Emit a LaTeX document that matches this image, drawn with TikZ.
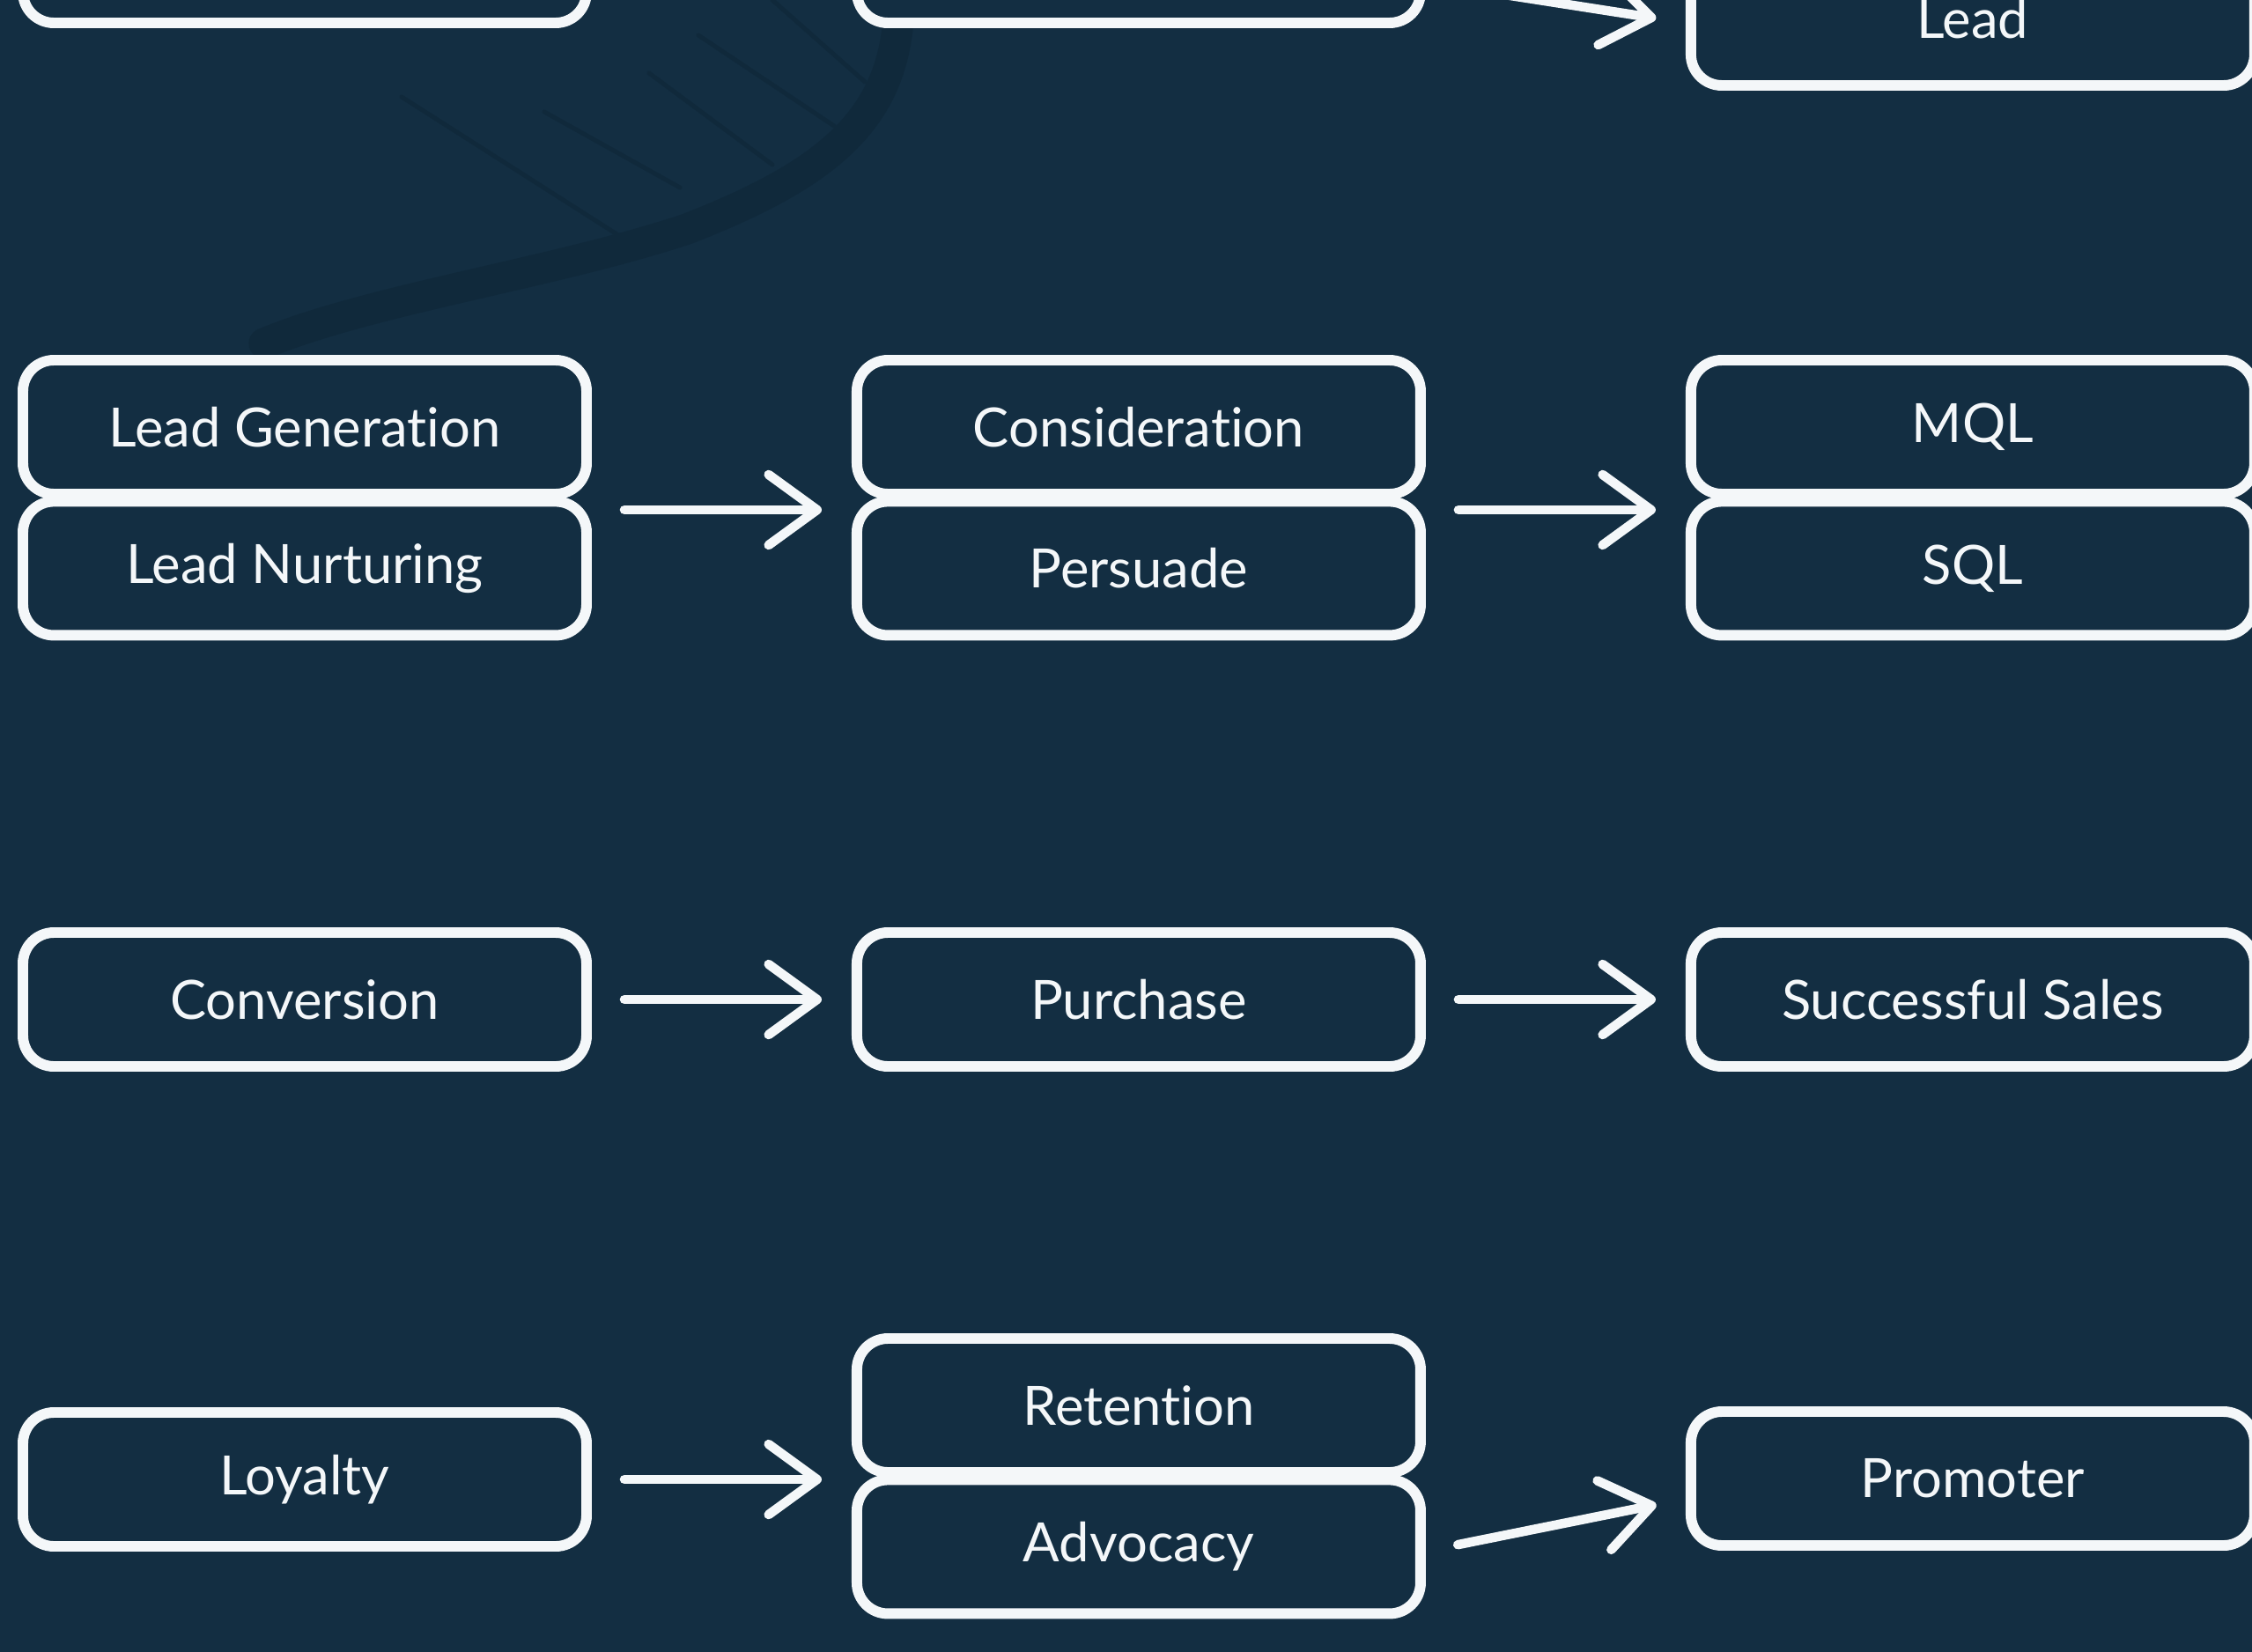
\documentclass[tikz,border=0pt]{standalone}
\usepackage{fontspec}
\setmainfont{Lato}[Ligatures=NoCommon]
\usepackage{tikz}
\usetikzlibrary{arrows.meta, positioning}
\definecolor{boardnavy}{HTML}{132E42}
\definecolor{boardshade}{HTML}{10293B}
\definecolor{chalk}{HTML}{F4F7F9}
\tikzset{
  stage/.style={draw=chalk, fill=boardnavy, rounded corners=10pt, line width=3.4pt,
    minimum height=1.52cm, minimum width=6.40cm, inner sep=0pt, text=chalk,
    font=\fontsize{17.5}{21}\selectfont},
  flow/.style={-{Straight Barb[length=5.5mm, width=8mm, round]}, draw=chalk,
    line width=3pt, line cap=round, shorten <=3.7mm, shorten >=3.4mm},
  sketch/.style={draw=boardshade, line cap=round}
}

\begin{document}
\begin{tikzpicture}[node distance=0cm and 2.95cm]
\fill[boardnavy] (0,0) rectangle (25.57,-18.76);
\useasboundingbox (0,0) rectangle (25.57,-18.76);
\clip (0,0) rectangle (25.57,-18.76);
% faint chalk sketch behind the upper rows
\draw[sketch, line width=10pt] (10.2,0.3) .. controls (10.3,-1.2) and (9.6,-1.9) .. (7.8,-2.6)
  .. controls (6.3,-3.1) and (4.2,-3.4) .. (3.0,-3.9);
\draw[sketch, line width=1.4pt] (4.56,-1.1) -- (7.02,-2.67) (6.18,-1.27) -- (7.72,-2.13)
  (7.37,-0.83) -- (8.77,-1.87) (7.93,-0.4) -- (9.47,-1.43) (8.77,0) -- (9.82,-0.93);

\node[stage] (topa) at (3.46,0.5) {};
\node[stage, right=of topa] (topb) {};
\node[stage, right=of topb, yshift=-7.1mm] (lead) {Lead};

\node[stage] (leadgen) at (3.46,-4.85) {Lead Generation};
\node[stage, below=-1pt of leadgen] (nurture) {Lead Nurturing};
\node[stage, right=of leadgen] (consider) {Consideration};
\node[stage, below=-1pt of consider] (persuade) {Persuade};
\node[stage, right=of consider] (mql) {MQL};
\node[stage, below=-1pt of mql] (sql) {SQL};

\node[stage] (convert) at (3.46,-11.35) {Conversion};
\node[stage, right=of convert] (purchase) {Purchase};
\node[stage, right=of purchase] (sales) {Successful Sales};

\node[stage] (loyal) at (3.46,-16.8) {Loyalty};
\node[stage, right=of loyal, yshift=8.4mm] (retain) {Retention};
\node[stage, below=-1pt of retain] (advocate) {Advocacy};
\node[stage, right=of retain, yshift=-8.3mm] (promoter) {Promoter};

\draw[flow] ([yshift=-3mm]topb.east) -- ([yshift=-0.5mm]lead.west);
\draw[flow] ([yshift=-1.2mm]leadgen.south east) -- ([yshift=-1.2mm]consider.south west);
\draw[flow] ([yshift=-1.2mm]consider.south east) -- ([yshift=-1.2mm]mql.south west);
\draw[flow] (convert) -- (purchase); \draw[flow] (purchase) -- (sales);
\draw[flow] (loyal.east) -- (loyal.east -| advocate.west);
\draw[flow] ([yshift=-0.5mm]advocate.east) -- ([yshift=-2.3mm]promoter.west);
\end{tikzpicture}
\end{document}
